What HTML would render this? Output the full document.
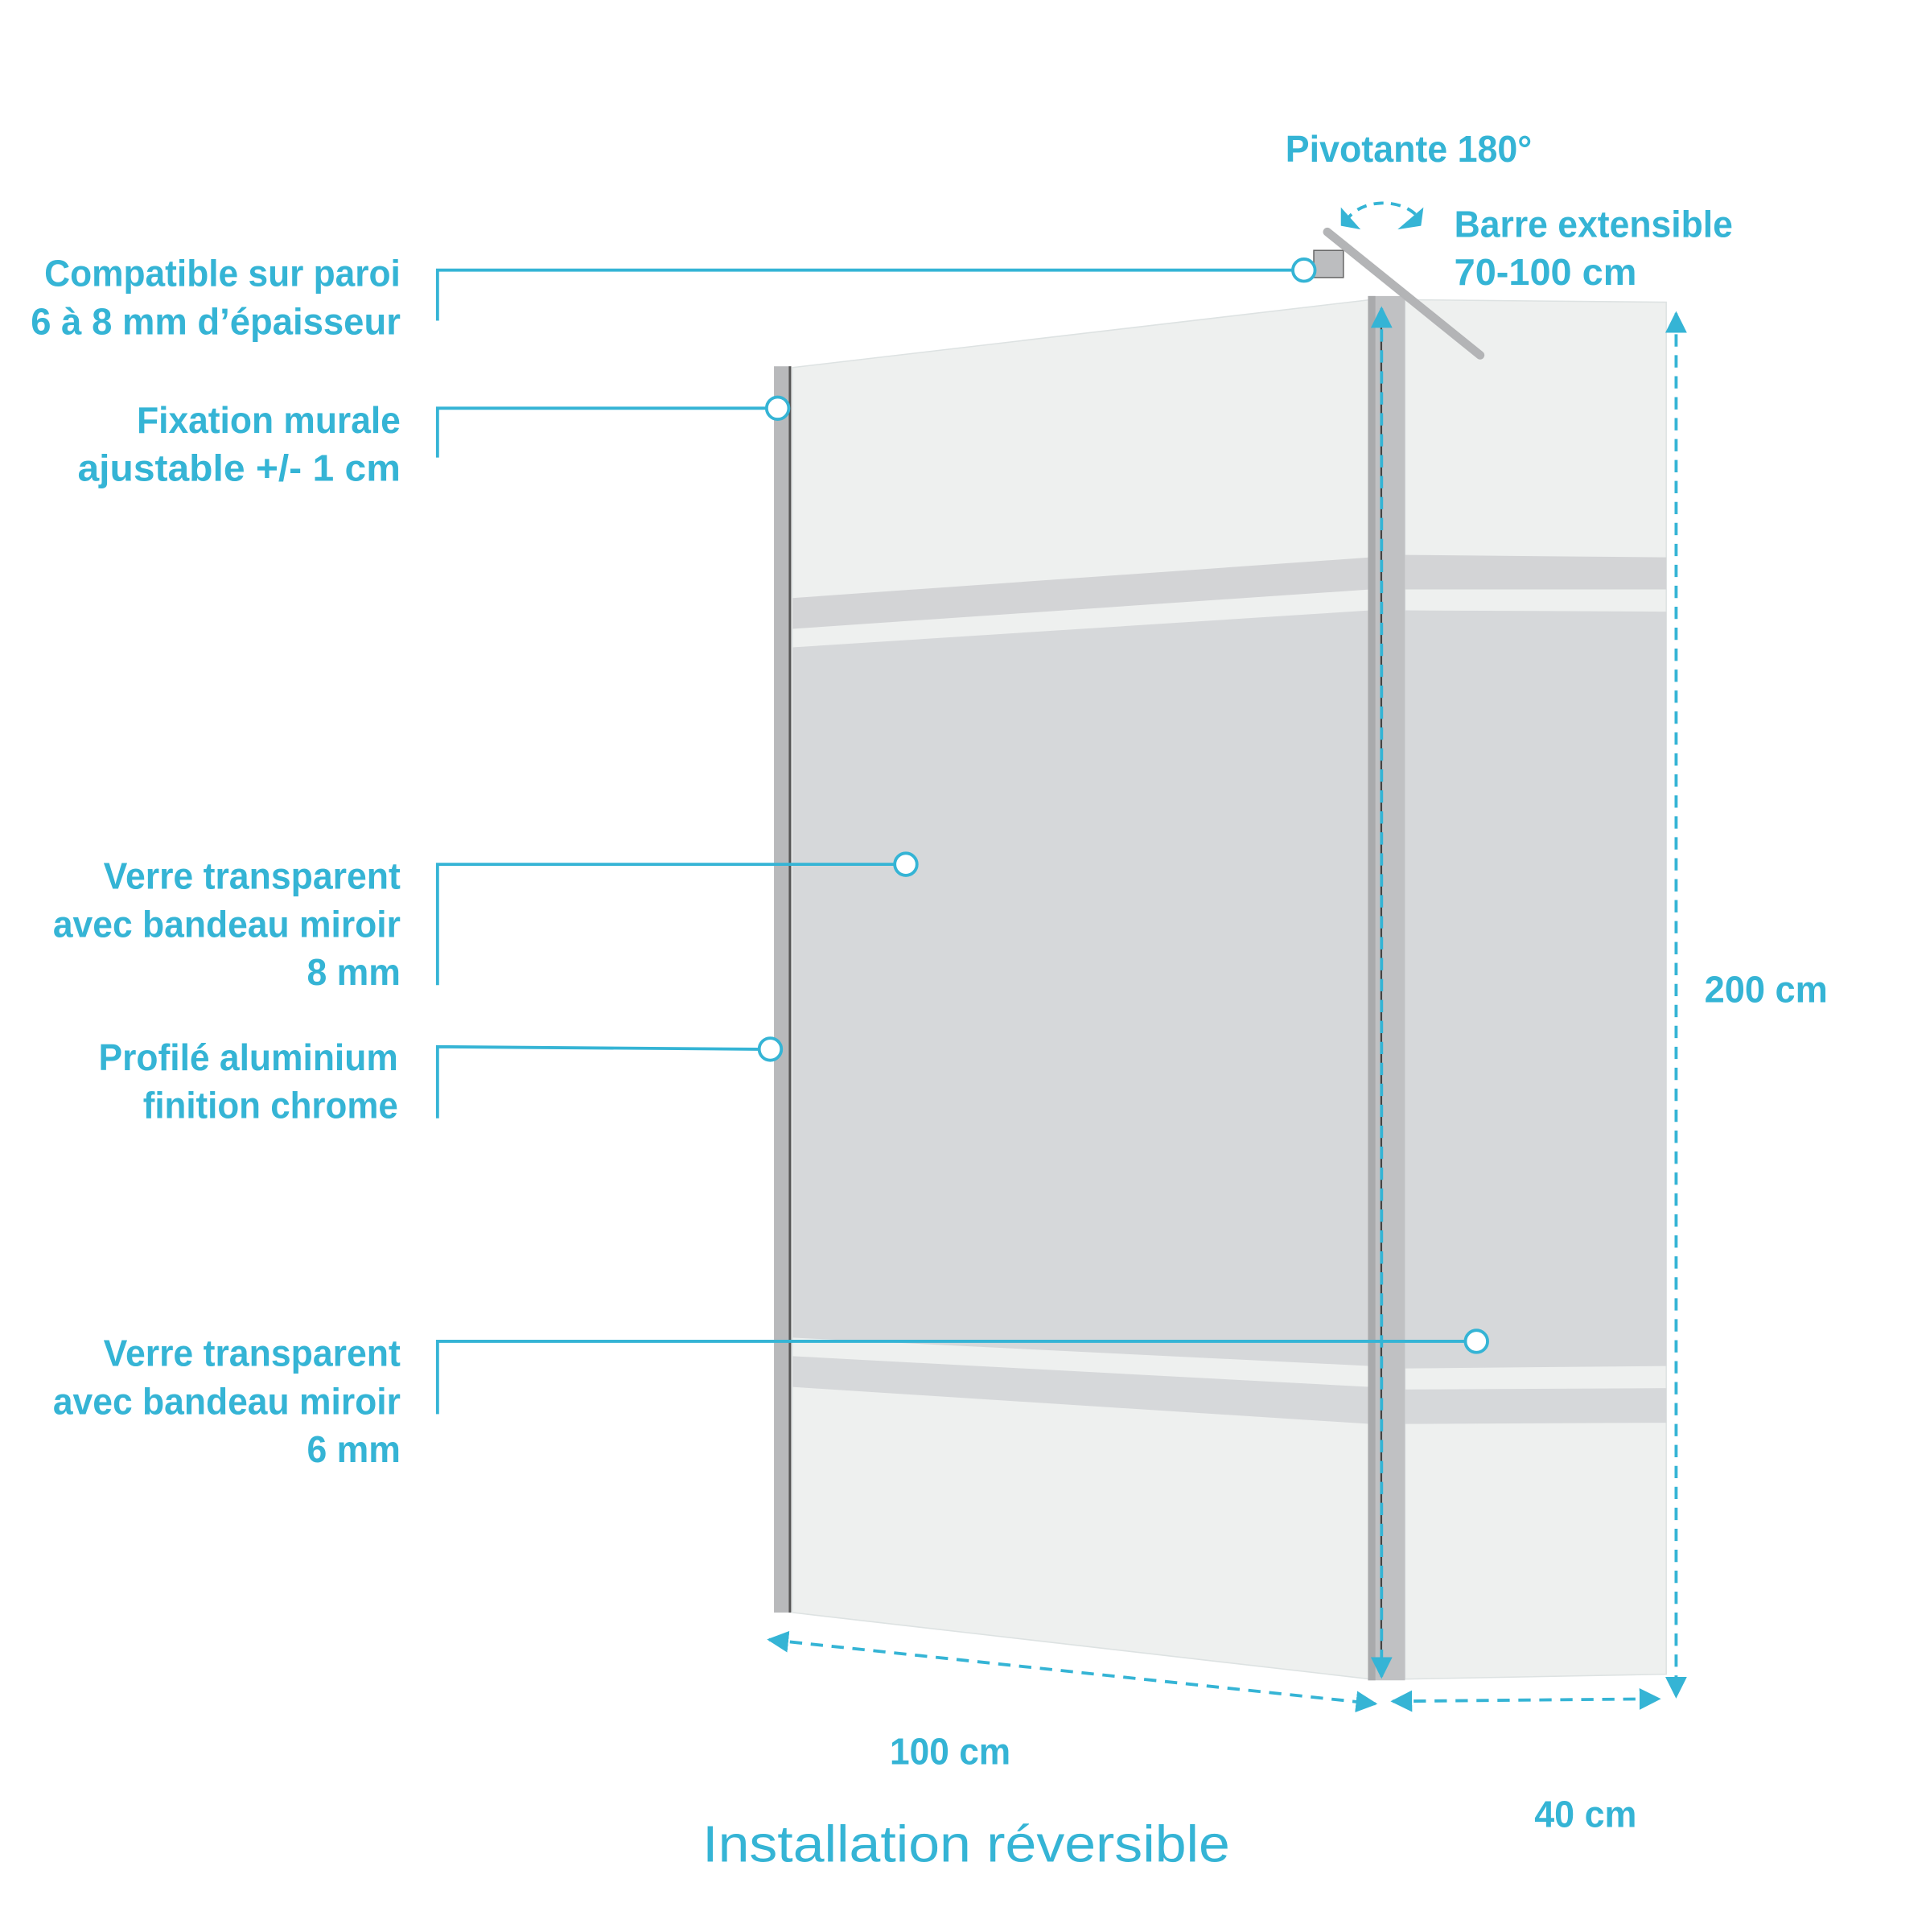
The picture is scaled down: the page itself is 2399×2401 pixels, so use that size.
<!DOCTYPE html>
<html><head><meta charset="utf-8"><style>
html,body{margin:0;padding:0;background:#fff}
svg{display:block}
text{font-family:"Liberation Sans",sans-serif;fill:#35b4d5}
</style></head><body>
<svg width="2399" height="2401" viewBox="0 0 1566 1567" xmlns="http://www.w3.org/2000/svg">
<defs>
<marker id="ah" viewBox="0 0 10 10" refX="9" refY="5" markerWidth="7" markerHeight="7" orient="auto-start-reverse">
<path d="M0,0 L10,5 L0,10 z" fill="#35b4d5"/></marker>
</defs>
<!-- left glass -->
<polygon points="643,298 1112,243 1112,1362 643,1308" fill="#eef0ef" stroke="#dde2e2" stroke-width="1"/>
<polygon points="643,485 1112,452 1112,478 643,510" fill="#d3d4d6"/>
<polygon points="643,525 1112,495 1112,1108 643,1085" fill="#d6d8da"/>
<polygon points="643,1100 1112,1125 1112,1155 643,1125" fill="#d6d8da"/>
<!-- right glass -->
<polygon points="1140,243 1352,245 1352,1358 1140,1362" fill="#eef0ef" stroke="#dde2e2" stroke-width="1"/>
<polygon points="1140,450 1352,452 1352,478 1140,478" fill="#d3d4d6"/>
<polygon points="1140,495 1352,496 1352,1108 1140,1110" fill="#d6d8da"/>
<polygon points="1140,1127 1352,1126 1352,1154 1140,1155" fill="#d6d8da"/>
<!-- posts -->
<rect x="628" y="297" width="14" height="1011" fill="#b8b9bb"/>
<rect x="640" y="297" width="2" height="1011" fill="#555"/>
<rect x="1110" y="240" width="30" height="1123" fill="#c0c1c3"/>
<rect x="1110" y="240" width="6" height="1123" fill="#a9aaac"/>
<rect x="1120" y="250" width="1.5" height="1110" fill="#444"/>
<!-- bar -->
<rect x="1066" y="203" width="24" height="22" fill="#bcbdbf" stroke="#666" stroke-width="1"/>
<line x1="1077" y1="188" x2="1201" y2="288" stroke="#b3b4b6" stroke-width="7" stroke-linecap="round"/>
<!-- rotation arrows -->
<path d="M1092,180 A32,22 0 0 1 1152,178" fill="none" stroke="#35b4d5" stroke-width="2.5" stroke-dasharray="8,6"/>
<polygon points="1088,168 1104,186 1088,183" fill="#35b4d5"/>
<polygon points="1155,168 1134,186 1153,183" fill="#35b4d5"/>
<!-- dims -->
<g stroke="#35b4d5" stroke-width="2.5" stroke-dasharray="10,7" fill="none">
<line x1="1121" y1="250" x2="1121" y2="1360" marker-start="url(#ah)" marker-end="url(#ah)"/>
<line x1="1360" y1="254" x2="1360" y2="1376" marker-start="url(#ah)" marker-end="url(#ah)"/>
<line x1="624" y1="1330" x2="1116" y2="1382" marker-start="url(#ah)" marker-end="url(#ah)"/>
<line x1="1130" y1="1380" x2="1346" y2="1378" marker-start="url(#ah)" marker-end="url(#ah)"/>
</g>
<!-- callouts -->
<g stroke="#35b4d5" stroke-width="2.5" fill="none">
<polyline points="355,260 355,219 1049,219"/>
<polyline points="355,371 355,331 622,331"/>
<polyline points="355,799 355,701 726,701"/>
<polyline points="355,907 355,849 615,851"/>
<polyline points="355,1147 355,1088 1189,1088"/>
</g>
<g stroke="#35b4d5" stroke-width="2.5" fill="#fff">
<circle cx="1058" cy="219" r="9"/>
<circle cx="631" cy="331" r="9"/>
<circle cx="735" cy="701" r="9"/>
<circle cx="625" cy="851" r="9"/>
<circle cx="1198" cy="1088" r="9"/>
</g>
<!-- labels -->
<g font-size="30" text-anchor="end" font-weight="bold">
<text x="325" y="232" textLength="289" lengthAdjust="spacingAndGlyphs">Compatible sur paroi</text>
<text x="325" y="271" textLength="300" lengthAdjust="spacingAndGlyphs">6 à 8 mm d’épaisseur</text>
<text x="325" y="351" textLength="214" lengthAdjust="spacingAndGlyphs">Fixation murale</text>
<text x="325" y="390" textLength="262" lengthAdjust="spacingAndGlyphs">ajustable +/- 1 cm</text>
<text x="325" y="721" textLength="241" lengthAdjust="spacingAndGlyphs">Verre transparent</text>
<text x="325" y="760" textLength="282" lengthAdjust="spacingAndGlyphs">avec bandeau miroir</text>
<text x="325" y="799" textLength="76" lengthAdjust="spacingAndGlyphs">8 mm</text>
<text x="323" y="868" textLength="243" lengthAdjust="spacingAndGlyphs">Profilé aluminium</text>
<text x="323" y="907" textLength="207" lengthAdjust="spacingAndGlyphs">finition chrome</text>
<text x="325" y="1108" textLength="241" lengthAdjust="spacingAndGlyphs">Verre transparent</text>
<text x="325" y="1147" textLength="282" lengthAdjust="spacingAndGlyphs">avec bandeau miroir</text>
<text x="325" y="1186" textLength="76" lengthAdjust="spacingAndGlyphs">6 mm</text>
</g>
<g font-size="30" font-weight="bold">
<text x="1043" y="131" textLength="200" lengthAdjust="spacingAndGlyphs">Pivotante 180°</text>
<text x="1180" y="192" textLength="226" lengthAdjust="spacingAndGlyphs">Barre extensible</text>
<text x="1180" y="231" textLength="148" lengthAdjust="spacingAndGlyphs">70-100 cm</text>
<text x="1383" y="813" textLength="100" lengthAdjust="spacingAndGlyphs">200 cm</text>
<text x="722" y="1431" textLength="98" lengthAdjust="spacingAndGlyphs">100 cm</text>
<text x="1245" y="1482" textLength="83" lengthAdjust="spacingAndGlyphs">40 cm</text>
<text x="570" y="1510" font-size="42" font-weight="normal" textLength="428" lengthAdjust="spacingAndGlyphs">Installation réversible</text>
</g>
</svg>
</body></html>
